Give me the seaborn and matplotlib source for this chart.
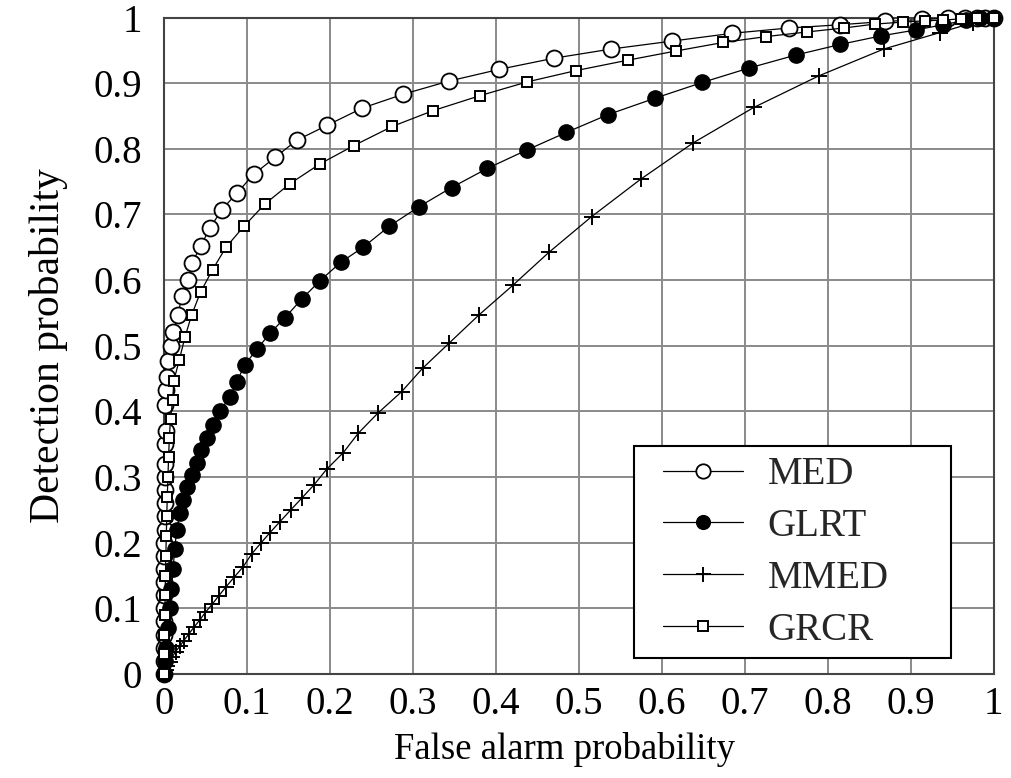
import numpy as np
import pandas as pd
import matplotlib
matplotlib.use("Agg")
import matplotlib.pyplot as plt
from matplotlib.lines import Line2D
from matplotlib.legend_handler import HandlerLine2D
import seaborn as sns

# ---- data ----
med_x = [0.0, 0.0, 0.0001, 0.0001, 0.0002, 0.0002, 0.0003, 0.0003, 0.0004, 0.0005,
         0.0006, 0.0007, 0.0008, 0.0009, 0.001, 0.0012, 0.0015, 0.0018, 0.0022,
         0.0012, 0.0024, 0.004, 0.0052, 0.008, 0.0112, 0.0172, 0.0213, 0.0293,
         0.034, 0.0442, 0.0554, 0.0695, 0.0876, 0.108, 0.134, 0.160, 0.197, 0.239,
         0.288, 0.343, 0.404, 0.470, 0.539, 0.612, 0.685, 0.753, 0.815, 0.869,
         0.914, 0.945, 0.965, 0.98, 0.99, 1.0]
med_y = [0.0, 0.02, 0.04, 0.06, 0.08, 0.10, 0.12, 0.14, 0.16, 0.18,
         0.20, 0.22, 0.24, 0.26, 0.28, 0.30, 0.32, 0.35, 0.37,
         0.41, 0.433, 0.453, 0.476, 0.499, 0.521, 0.547, 0.576, 0.600, 0.626,
         0.652, 0.679, 0.707, 0.732, 0.761, 0.787, 0.813, 0.836, 0.862, 0.883,
         0.903, 0.921, 0.938, 0.952, 0.964, 0.976, 0.984, 0.989, 0.994, 0.997,
         0.999, 1.0, 1.0, 1.0, 1.0]

glrt_x = [0.0, 0.0015, 0.003, 0.005, 0.007, 0.009, 0.011, 0.013, 0.0153, 0.0193,
          0.0233, 0.0273, 0.0334, 0.0394, 0.0446, 0.0514, 0.0587, 0.0675, 0.0795,
          0.0876, 0.0976, 0.112, 0.128, 0.146, 0.166, 0.188, 0.213, 0.240, 0.2715,
          0.3076, 0.3466, 0.3895, 0.437, 0.485, 0.535, 0.5916, 0.6486, 0.705,
          0.762, 0.815, 0.864, 0.906, 0.939, 0.967, 0.983, 0.999]
glrt_y = [0.0, 0.02, 0.04, 0.07, 0.10, 0.13, 0.16, 0.19, 0.219, 0.245,
          0.265, 0.285, 0.303, 0.321, 0.341, 0.359, 0.379, 0.401, 0.422,
          0.445, 0.471, 0.495, 0.519, 0.543, 0.571, 0.599, 0.627, 0.650, 0.682,
          0.712, 0.741, 0.770, 0.798, 0.825, 0.852, 0.877, 0.901, 0.923,
          0.943, 0.959, 0.972, 0.981, 0.989, 0.996, 0.999, 1.0]

mmed_x = [0.0, 0.002, 0.004, 0.007, 0.010, 0.014, 0.019, 0.024, 0.030, 0.036,
          0.043, 0.050, 0.058, 0.066, 0.075, 0.085, 0.0955, 0.1057, 0.1165,
          0.1277, 0.1398, 0.1527, 0.1659, 0.1807, 0.196, 0.216, 0.2341, 0.2575,
          0.2864, 0.3117, 0.3434, 0.3795, 0.4208, 0.4639, 0.5153, 0.5743,
          0.6377, 0.7108, 0.789, 0.8675, 0.935, 0.975, 1.0]
mmed_y = [0.0, 0.006, 0.012, 0.019, 0.026, 0.034, 0.042, 0.051, 0.061, 0.071,
          0.082, 0.094, 0.106, 0.119, 0.133, 0.148, 0.1634, 0.1828, 0.199,
          0.2152, 0.232, 0.2498, 0.2676, 0.2879, 0.3118, 0.337, 0.3666, 0.397,
          0.430, 0.4657, 0.5037, 0.5468, 0.5925, 0.6423, 0.6966, 0.7535,
          0.809, 0.863, 0.911, 0.952, 0.977, 0.992, 1.0]

grcr_x = [0.0, 0.0003, 0.0006, 0.001, 0.0014, 0.0018, 0.0023, 0.0028, 0.0034,
          0.004, 0.0048, 0.0056, 0.0065, 0.008, 0.0105, 0.012, 0.0184, 0.0253,
          0.0334, 0.0442, 0.0587, 0.0747, 0.0964, 0.1217, 0.152, 0.188, 0.229,
          0.275, 0.324, 0.381, 0.438, 0.496, 0.559, 0.617, 0.674, 0.726, 0.775,
          0.819, 0.857, 0.890, 0.917, 0.939, 0.96, 0.98, 1.0]
grcr_y = [0.0, 0.03, 0.06, 0.09, 0.12, 0.15, 0.18, 0.21, 0.24,
          0.27, 0.30, 0.33, 0.36, 0.389, 0.417, 0.447, 0.478, 0.513,
          0.547, 0.582, 0.616, 0.650, 0.682, 0.716, 0.747, 0.777, 0.805,
          0.834, 0.858, 0.881, 0.902, 0.919, 0.935, 0.949, 0.962, 0.971, 0.978,
          0.984, 0.990, 0.993, 0.995, 0.996, 0.998, 0.999, 1.0]

series_names = ["MED", "GLRT", "MMED", "GRCR"]
tick_vals = [0, 0.1, 0.2, 0.3, 0.4, 0.5, 0.6, 0.7, 0.8, 0.9, 1]
tick_labels = ["0", "0.1", "0.2", "0.3", "0.4", "0.5", "0.6", "0.7", "0.8", "0.9", "1"]

# ---- plot ----
sns.set_theme(style="whitegrid")
plt.rcParams["font.family"] = ["Liberation Serif", "DejaVu Serif"]

fig = plt.figure(figsize=(10.12, 7.78), dpi=100)
ax = fig.add_axes([0.162, 0.1337, 0.820, 0.8438])

styles = {
    "MED":  dict(marker="o", markersize=11.5, markerfacecolor="white", markeredgewidth=1.3),
    "GLRT": dict(marker="o", markersize=11, markerfacecolor="black", markeredgewidth=1.0),
    "MMED": dict(marker="+", markersize=12, markerfacecolor="black", markeredgewidth=1.4),
    "GRCR": dict(marker="s", markersize=7.5, markerfacecolor="white", markeredgewidth=1.4),
}
data = {"MED": (med_x, med_y), "GLRT": (glrt_x, glrt_y),
        "MMED": (mmed_x, mmed_y), "GRCR": (grcr_x, grcr_y)}

for name in series_names:
    xs, ys = data[name]
    df = pd.DataFrame({"x": xs, "y": ys})
    sns.lineplot(data=df, x="x", y="y", ax=ax, sort=False, estimator=None,
                 color="black", linewidth=0.9, markeredgecolor="black",
                 label=name, clip_on=False, zorder=3, **styles[name])

ax.set_xlim(0, 1)
ax.set_ylim(0, 1)
ax.set_xticks(tick_vals)
ax.set_xticklabels(tick_labels)
ax.set_yticks(tick_vals)
ax.set_yticklabels(tick_labels)
ax.tick_params(labelsize=28, colors="black", length=0)
ax.tick_params(axis="y", pad=16)
ax.tick_params(axis="x", pad=9)
ax.grid(True, color="#8a8a8a", linewidth=1.4)
ax.set_facecolor("white")
for sp in ax.spines.values():
    sp.set_color("#444444")
    sp.set_linewidth(1.5)
    sp.set_visible(True)

ax.set_xlabel("False alarm probability", fontsize=26.5, color="black", labelpad=6)
ax.xaxis.label.set_x(0.483)
ax.set_ylabel("Detection probability", fontsize=30, color="black", labelpad=18)

leg = ax.legend(loc="lower left", bbox_to_anchor=(0.566, 0.024, 0.383, 0.3),
                mode="expand", fontsize=28,
                frameon=True, fancybox=False, framealpha=1, edgecolor="black",
                borderpad=0.25, labelspacing=0.38, handlelength=2.55, handletextpad=0.65,
                borderaxespad=0.0, markerscale=0.9,
                handler_map={Line2D: HandlerLine2D(xpad=0.5)})
leg.get_frame().set_linewidth(1.5)
leg.set_zorder(5)

fig.savefig("out.png", dpi=100, facecolor="white")
